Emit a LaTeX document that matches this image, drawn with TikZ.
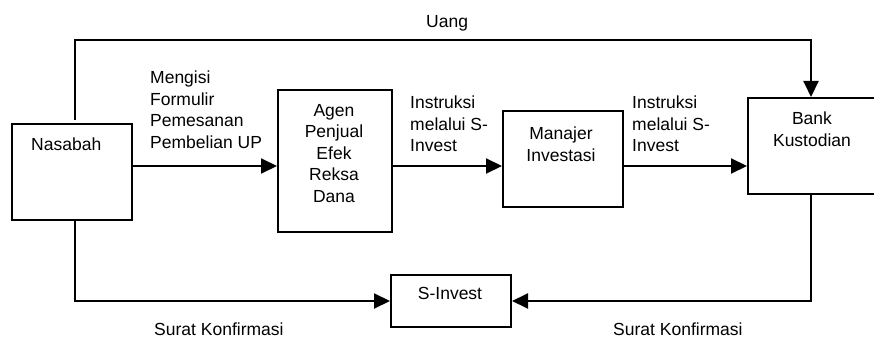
\documentclass[tikz,border=0pt]{standalone}
\usepackage{fontspec}
\setmainfont{Liberation Sans}
\usetikzlibrary{arrows.meta}
\begin{document}
\begin{tikzpicture}[x=1pt,y=-1pt,
  box/.style={draw,line width=2pt,inner sep=0pt,anchor=north west},
  lbl/.style={font=\fontsize{17.5}{21.5}\selectfont,inner sep=0pt,align=left,anchor=north west},
  clbl/.style={font=\fontsize{17.5}{21.5}\selectfont,inner sep=0pt,align=center,anchor=north},
  arr/.style={line width=2pt,-{Triangle[length=16pt,width=15pt]}}]
\useasboundingbox (0,0) rectangle (874,339);
% boxes
\node[box,minimum width=120pt,minimum height=96pt] (nas) at (11,123) {};
\node[box,minimum width=114pt,minimum height=142pt] (agen) at (277,89) {};
\node[box,minimum width=120pt,minimum height=96pt] (mi) at (502,110) {};
\node[box,minimum width=150pt,minimum height=96pt] (bank) at (747,97) {};
\node[box,minimum width=120pt,minimum height=52pt] (sinv) at (390,274) {};
% box texts
\node[lbl] (tnas) at (31,138) {Nasabah};
\node[clbl] (tagen) at (334,104) {Agen\\Penjual\\Efek\\Reksa\\Dana};
\node[clbl] (tmi) at (561,127) {Manajer\\Investasi};
\node[clbl] (tbank) at (812,112) {Bank\\Kustodian};
\node[clbl] (tsinv) at (450,287) {S-Invest};
% labels
\node[lbl] (luang) at (426,15) {Uang};
\node[lbl] (lform) at (150,71) {Mengisi\\Formulir\\Pemesanan\\Pembelian UP};
\node[lbl] (lins1) at (410,96) {Instruksi\\melalui S-\\Invest};
\node[lbl] (lins2) at (632,96) {Instruksi\\melalui S-\\Invest};
\node[lbl] (lsk1) at (154,323) {Surat Konfirmasi};
\node[lbl] (lsk2) at (613,323) {Surat Konfirmasi};
% connectors
\coordinate (row) at (0,166);
\coordinate (ux) at (75,40);
\coordinate (bx) at (811,0);
\coordinate (by) at (0,301);
\draw[arr] (nas.east |- row) -- (agen.west |- row);
\draw[arr] (agen.east |- row) -- (mi.west |- row);
\draw[arr] (mi.east |- row) -- (bank.west |- row);
\draw[arr] (ux |- 0,120) -- (ux) -| (bx |- bank.north);
\draw[arr] (nas.south -| ux) |- (sinv.west |- by);
\draw[arr] (bx |- bank.south) |- (sinv.east |- by);
\end{tikzpicture}
\end{document}
